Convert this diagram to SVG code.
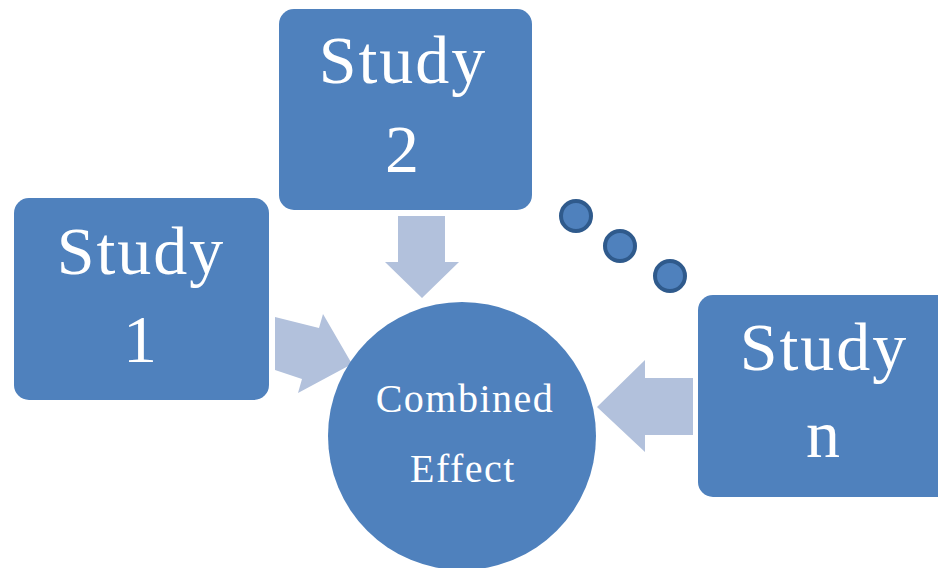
<svg xmlns="http://www.w3.org/2000/svg" width="938" height="568" viewBox="0 0 938 568">
<style>
.box{fill:#4f81bd}
.arrow{fill:#b2c1dc}
.dot{fill:#4f81bd;stroke:#2f5a8c;stroke-width:4}
.big{font-family:"Liberation Serif","Times New Roman",serif;font-size:68px;fill:#ffffff;text-anchor:middle;letter-spacing:2px}
.small{font-family:"Liberation Serif","Times New Roman",serif;font-size:40px;fill:#ffffff;text-anchor:middle;letter-spacing:1.5px}
</style>
<rect width="938" height="568" fill="#ffffff"/>
<g id="connectors">
<polygon class="arrow" points="398,216 445,216 445,262 459,262 422,298 385,262 398,262"/>
<polygon class="arrow" points="275,317 319,328 323,314 352,364 298,393 302,379 275,370"/>
<polygon class="arrow" points="693,378 645,378 645,360 597,407 645,452 645,435 693,435"/>
</g>
<g id="study2">
<rect class="box" x="279" y="9" width="253" height="201" rx="15"/>
<text class="big" x="403" y="83">Study</text>
<text class="big" x="403" y="172">2</text>
</g>
<g id="study1">
<rect class="box" x="14" y="198" width="255" height="202" rx="15"/>
<text class="big" x="141" y="274">Study</text>
<text class="big" x="141" y="362">1</text>
</g>
<g id="studyn">
<rect class="box" x="698" y="295" width="260" height="202" rx="15"/>
<text class="big" x="824" y="370">Study</text>
<text class="big" x="824" y="457">n</text>
</g>
<g id="combined">
<circle class="box" cx="462" cy="436" r="134"/>
<text class="small" x="465" y="412">Combined</text>
<text class="small" x="463" y="482">Effect</text>
</g>
<g id="dots">
<circle class="dot" cx="576" cy="216" r="15"/>
<circle class="dot" cx="620" cy="246" r="15"/>
<circle class="dot" cx="670" cy="276" r="15"/>
</g>
</svg>
